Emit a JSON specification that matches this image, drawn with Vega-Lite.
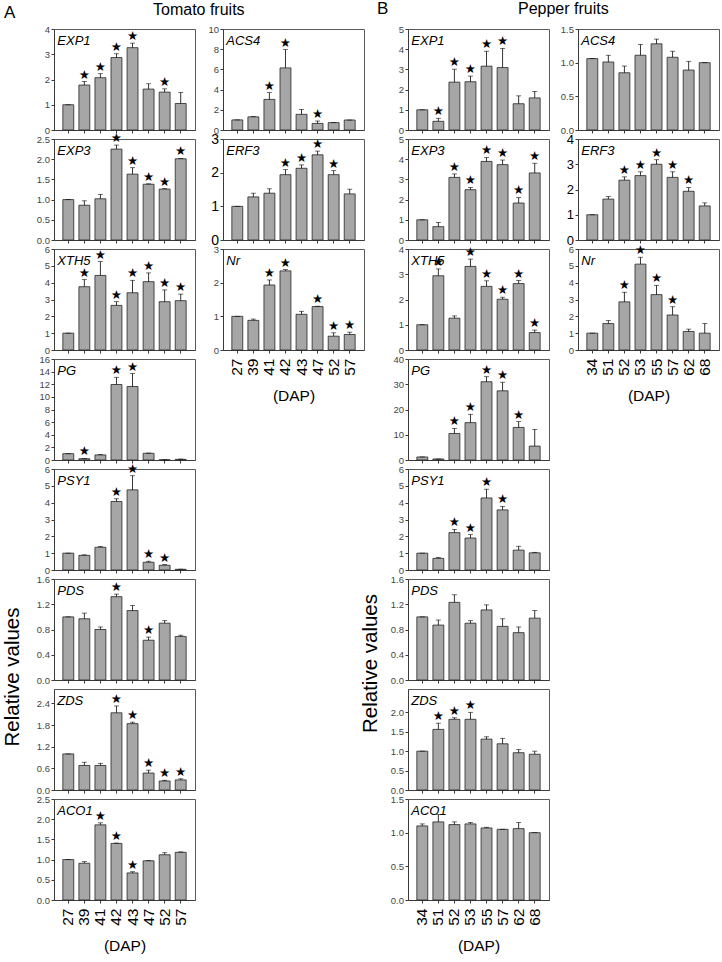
{
"$schema":"https://vega.github.io/schema/vega-lite/v6.json",
"background":"white",
"autosize":{"type":"pad"},
"padding":{"left":1,"top":0,"right":2,"bottom":2},
"bounds":"flush",
"spacing":354,
"config":{
"font":"Liberation Sans",
"view":{"stroke":"#5a5a5a","strokeWidth":1},
"bar":{"color":"#a6a6a6","stroke":"#262626","strokeWidth":0.8},
"rule":{"color":"black","strokeWidth":0.8},
"tick":{"color":"black","thickness":0.8},
"axis":{"grid":false,"domainColor":"#3a3a3a","tickColor":"#3a3a3a","tickSize":3,"labelFont":"Liberation Sans","labelFontSize":9.5,"labelColor":"#444","labelPadding":1.5,"labelOverlap":false,"labelFlush":false,"titleFont":"Liberation Sans","titleFontWeight":"normal","titleColor":"black"},
"axisY":{"labelOverlap":false,"tickCount":20},
"axisX":{"labelAngle":-90,"labelFontSize":15.5,"labelColor":"black","labelPadding":5,"titleFontSize":15.5,"titlePadding":13},
"title":{"font":"Liberation Sans","fontWeight":"normal","color":"black","baseline":"alphabetic","offset":8},
"style":{
"star":{"fontSize":12.5,"baseline":"bottom","dy":0,"font":"DejaVu Sans","fill":"black"},
"gene":{"align":"left","baseline":"top","dx":-11,"dy":6,"fontStyle":"italic","fontSize":13,"font":"Liberation Sans","fill":"black"}
}
},
"datasets":{"d":[
{"c":"T","g":"EXP1","d":27,"v":1,"hi":1,"s":0},
{"c":"T","g":"EXP1","d":39,"v":1.78,"hi":1.92,"s":1},
{"c":"T","g":"EXP1","d":41,"v":2.07,"hi":2.23,"s":1},
{"c":"T","g":"EXP1","d":42,"v":2.87,"hi":3.02,"s":1},
{"c":"T","g":"EXP1","d":43,"v":3.26,"hi":3.44,"s":1},
{"c":"T","g":"EXP1","d":47,"v":1.62,"hi":1.83,"s":0},
{"c":"T","g":"EXP1","d":52,"v":1.5,"hi":1.63,"s":1},
{"c":"T","g":"EXP1","d":57,"v":1.05,"hi":1.49,"s":0},
{"c":"T","g":"EXP3","d":27,"v":1,"hi":1,"s":0},
{"c":"T","g":"EXP3","d":39,"v":0.86,"hi":0.97,"s":0},
{"c":"T","g":"EXP3","d":41,"v":1.02,"hi":1.13,"s":0},
{"c":"T","g":"EXP3","d":42,"v":2.25,"hi":2.35,"s":1},
{"c":"T","g":"EXP3","d":43,"v":1.63,"hi":1.79,"s":1},
{"c":"T","g":"EXP3","d":47,"v":1.38,"hi":1.39,"s":1},
{"c":"T","g":"EXP3","d":52,"v":1.26,"hi":1.27,"s":1},
{"c":"T","g":"EXP3","d":57,"v":2.01,"hi":2.02,"s":1},
{"c":"T","g":"XTH5","d":27,"v":1,"hi":1,"s":0},
{"c":"T","g":"XTH5","d":39,"v":3.76,"hi":4.18,"s":1},
{"c":"T","g":"XTH5","d":41,"v":4.43,"hi":5.25,"s":1},
{"c":"T","g":"XTH5","d":42,"v":2.65,"hi":2.87,"s":1},
{"c":"T","g":"XTH5","d":43,"v":3.4,"hi":4.14,"s":1},
{"c":"T","g":"XTH5","d":47,"v":4.06,"hi":4.58,"s":1},
{"c":"T","g":"XTH5","d":52,"v":2.87,"hi":3.57,"s":1},
{"c":"T","g":"XTH5","d":57,"v":2.93,"hi":3.32,"s":1},
{"c":"T","g":"PG","d":27,"v":1,"hi":1,"s":0},
{"c":"T","g":"PG","d":39,"v":0.2,"hi":0.25,"s":1},
{"c":"T","g":"PG","d":41,"v":0.8,"hi":0.85,"s":0},
{"c":"T","g":"PG","d":42,"v":11.96,"hi":13.1,"s":1},
{"c":"T","g":"PG","d":43,"v":11.64,"hi":13.7,"s":1},
{"c":"T","g":"PG","d":47,"v":1.06,"hi":1.1,"s":0},
{"c":"T","g":"PG","d":52,"v":0.03,"hi":0.03,"s":0},
{"c":"T","g":"PG","d":57,"v":0.1,"hi":0.15,"s":0},
{"c":"T","g":"PSY1","d":27,"v":1,"hi":1,"s":0},
{"c":"T","g":"PSY1","d":39,"v":0.87,"hi":0.9,"s":0},
{"c":"T","g":"PSY1","d":41,"v":1.35,"hi":1.39,"s":0},
{"c":"T","g":"PSY1","d":42,"v":4.07,"hi":4.23,"s":1},
{"c":"T","g":"PSY1","d":43,"v":4.76,"hi":5.6,"s":1},
{"c":"T","g":"PSY1","d":47,"v":0.46,"hi":0.52,"s":1},
{"c":"T","g":"PSY1","d":52,"v":0.28,"hi":0.32,"s":1},
{"c":"T","g":"PSY1","d":57,"v":0.04,"hi":0.05,"s":0},
{"c":"T","g":"PDS","d":27,"v":1,"hi":1,"s":0},
{"c":"T","g":"PDS","d":39,"v":0.97,"hi":1.06,"s":0},
{"c":"T","g":"PDS","d":41,"v":0.8,"hi":0.84,"s":0},
{"c":"T","g":"PDS","d":42,"v":1.32,"hi":1.36,"s":1},
{"c":"T","g":"PDS","d":43,"v":1.1,"hi":1.18,"s":0},
{"c":"T","g":"PDS","d":47,"v":0.63,"hi":0.68,"s":1},
{"c":"T","g":"PDS","d":52,"v":0.9,"hi":0.94,"s":0},
{"c":"T","g":"PDS","d":57,"v":0.69,"hi":0.71,"s":0},
{"c":"T","g":"ZDS","d":27,"v":1,"hi":1,"s":0},
{"c":"T","g":"ZDS","d":39,"v":0.68,"hi":0.77,"s":0},
{"c":"T","g":"ZDS","d":41,"v":0.68,"hi":0.74,"s":0},
{"c":"T","g":"ZDS","d":42,"v":2.14,"hi":2.33,"s":1},
{"c":"T","g":"ZDS","d":43,"v":1.84,"hi":1.88,"s":1},
{"c":"T","g":"ZDS","d":47,"v":0.47,"hi":0.55,"s":1},
{"c":"T","g":"ZDS","d":52,"v":0.25,"hi":0.27,"s":1},
{"c":"T","g":"ZDS","d":57,"v":0.28,"hi":0.31,"s":1},
{"c":"T","g":"ACO1","d":27,"v":1,"hi":1,"s":0},
{"c":"T","g":"ACO1","d":39,"v":0.91,"hi":0.95,"s":0},
{"c":"T","g":"ACO1","d":41,"v":1.86,"hi":1.91,"s":1},
{"c":"T","g":"ACO1","d":42,"v":1.4,"hi":1.41,"s":1},
{"c":"T","g":"ACO1","d":43,"v":0.67,"hi":0.7,"s":1},
{"c":"T","g":"ACO1","d":47,"v":0.97,"hi":0.98,"s":0},
{"c":"T","g":"ACO1","d":52,"v":1.12,"hi":1.17,"s":0},
{"c":"T","g":"ACO1","d":57,"v":1.18,"hi":1.19,"s":0},
{"c":"T","g":"ACS4","d":27,"v":1,"hi":1,"s":0},
{"c":"T","g":"ACS4","d":39,"v":1.3,"hi":1.33,"s":0},
{"c":"T","g":"ACS4","d":41,"v":3.03,"hi":3.7,"s":1},
{"c":"T","g":"ACS4","d":42,"v":6.15,"hi":7.96,"s":1},
{"c":"T","g":"ACS4","d":43,"v":1.55,"hi":2.04,"s":0},
{"c":"T","g":"ACS4","d":47,"v":0.65,"hi":0.89,"s":1},
{"c":"T","g":"ACS4","d":52,"v":0.73,"hi":0.75,"s":0},
{"c":"T","g":"ACS4","d":57,"v":0.99,"hi":0.99,"s":0},
{"c":"T","g":"ERF3","d":27,"v":1,"hi":1,"s":0},
{"c":"T","g":"ERF3","d":39,"v":1.28,"hi":1.39,"s":0},
{"c":"T","g":"ERF3","d":41,"v":1.39,"hi":1.52,"s":0},
{"c":"T","g":"ERF3","d":42,"v":1.94,"hi":2.09,"s":1},
{"c":"T","g":"ERF3","d":43,"v":2.13,"hi":2.23,"s":1},
{"c":"T","g":"ERF3","d":47,"v":2.53,"hi":2.64,"s":1},
{"c":"T","g":"ERF3","d":52,"v":1.94,"hi":2.06,"s":1},
{"c":"T","g":"ERF3","d":57,"v":1.37,"hi":1.51,"s":0},
{"c":"T","g":"Nr","d":27,"v":1,"hi":1,"s":0},
{"c":"T","g":"Nr","d":39,"v":0.88,"hi":0.92,"s":0},
{"c":"T","g":"Nr","d":41,"v":1.93,"hi":2.08,"s":1},
{"c":"T","g":"Nr","d":42,"v":2.35,"hi":2.39,"s":1},
{"c":"T","g":"Nr","d":43,"v":1.06,"hi":1.15,"s":0},
{"c":"T","g":"Nr","d":47,"v":1.29,"hi":1.3,"s":1},
{"c":"T","g":"Nr","d":52,"v":0.41,"hi":0.51,"s":1},
{"c":"T","g":"Nr","d":57,"v":0.46,"hi":0.53,"s":1},
{"c":"P","g":"EXP1","d":34,"v":1,"hi":1,"s":0},
{"c":"P","g":"EXP1","d":51,"v":0.43,"hi":0.58,"s":1},
{"c":"P","g":"EXP1","d":52,"v":2.37,"hi":3.01,"s":1},
{"c":"P","g":"EXP1","d":53,"v":2.39,"hi":2.67,"s":1},
{"c":"P","g":"EXP1","d":55,"v":3.16,"hi":3.9,"s":1},
{"c":"P","g":"EXP1","d":57,"v":3.09,"hi":4.04,"s":1},
{"c":"P","g":"EXP1","d":62,"v":1.3,"hi":1.69,"s":0},
{"c":"P","g":"EXP1","d":68,"v":1.59,"hi":1.91,"s":0},
{"c":"P","g":"EXP3","d":34,"v":1,"hi":1,"s":0},
{"c":"P","g":"EXP3","d":51,"v":0.66,"hi":0.87,"s":0},
{"c":"P","g":"EXP3","d":52,"v":3.1,"hi":3.27,"s":1},
{"c":"P","g":"EXP3","d":53,"v":2.49,"hi":2.6,"s":1},
{"c":"P","g":"EXP3","d":55,"v":3.89,"hi":4.09,"s":1},
{"c":"P","g":"EXP3","d":57,"v":3.73,"hi":3.96,"s":1},
{"c":"P","g":"EXP3","d":62,"v":1.83,"hi":2.11,"s":1},
{"c":"P","g":"EXP3","d":68,"v":3.32,"hi":3.8,"s":1},
{"c":"P","g":"XTH5","d":34,"v":1,"hi":1,"s":0},
{"c":"P","g":"XTH5","d":51,"v":2.94,"hi":3.21,"s":1},
{"c":"P","g":"XTH5","d":52,"v":1.26,"hi":1.35,"s":0},
{"c":"P","g":"XTH5","d":53,"v":3.31,"hi":3.6,"s":1},
{"c":"P","g":"XTH5","d":55,"v":2.52,"hi":2.74,"s":1},
{"c":"P","g":"XTH5","d":57,"v":2.01,"hi":2.09,"s":1},
{"c":"P","g":"XTH5","d":62,"v":2.63,"hi":2.75,"s":1},
{"c":"P","g":"XTH5","d":68,"v":0.69,"hi":0.79,"s":1},
{"c":"P","g":"PG","d":34,"v":1.2,"hi":1.2,"s":0},
{"c":"P","g":"PG","d":51,"v":0.4,"hi":0.4,"s":0},
{"c":"P","g":"PG","d":52,"v":10.5,"hi":12.5,"s":1},
{"c":"P","g":"PG","d":53,"v":14.8,"hi":18.1,"s":1},
{"c":"P","g":"PG","d":55,"v":31,"hi":33,"s":1},
{"c":"P","g":"PG","d":57,"v":27.4,"hi":30.8,"s":1},
{"c":"P","g":"PG","d":62,"v":12.9,"hi":15.2,"s":1},
{"c":"P","g":"PG","d":68,"v":5.5,"hi":12.1,"s":0},
{"c":"P","g":"PSY1","d":34,"v":1,"hi":1,"s":0},
{"c":"P","g":"PSY1","d":51,"v":0.69,"hi":0.74,"s":0},
{"c":"P","g":"PSY1","d":52,"v":2.22,"hi":2.41,"s":1},
{"c":"P","g":"PSY1","d":53,"v":1.9,"hi":2.1,"s":1},
{"c":"P","g":"PSY1","d":55,"v":4.28,"hi":4.8,"s":1},
{"c":"P","g":"PSY1","d":57,"v":3.57,"hi":3.78,"s":1},
{"c":"P","g":"PSY1","d":62,"v":1.18,"hi":1.41,"s":0},
{"c":"P","g":"PSY1","d":68,"v":1.02,"hi":1.05,"s":0},
{"c":"P","g":"PDS","d":34,"v":1,"hi":1,"s":0},
{"c":"P","g":"PDS","d":51,"v":0.87,"hi":0.95,"s":0},
{"c":"P","g":"PDS","d":52,"v":1.23,"hi":1.35,"s":0},
{"c":"P","g":"PDS","d":53,"v":0.9,"hi":0.94,"s":0},
{"c":"P","g":"PDS","d":55,"v":1.11,"hi":1.19,"s":0},
{"c":"P","g":"PDS","d":57,"v":0.85,"hi":0.97,"s":0},
{"c":"P","g":"PDS","d":62,"v":0.75,"hi":0.84,"s":0},
{"c":"P","g":"PDS","d":68,"v":0.98,"hi":1.1,"s":0},
{"c":"P","g":"ZDS","d":34,"v":1,"hi":1,"s":0},
{"c":"P","g":"ZDS","d":51,"v":1.56,"hi":1.72,"s":1},
{"c":"P","g":"ZDS","d":52,"v":1.82,"hi":1.86,"s":1},
{"c":"P","g":"ZDS","d":53,"v":1.82,"hi":2.0,"s":1},
{"c":"P","g":"ZDS","d":55,"v":1.31,"hi":1.37,"s":0},
{"c":"P","g":"ZDS","d":57,"v":1.19,"hi":1.33,"s":0},
{"c":"P","g":"ZDS","d":62,"v":0.96,"hi":1.04,"s":0},
{"c":"P","g":"ZDS","d":68,"v":0.92,"hi":1.0,"s":0},
{"c":"P","g":"ACO1","d":34,"v":1.1,"hi":1.13,"s":0},
{"c":"P","g":"ACO1","d":51,"v":1.16,"hi":1.27,"s":0},
{"c":"P","g":"ACO1","d":52,"v":1.12,"hi":1.16,"s":0},
{"c":"P","g":"ACO1","d":53,"v":1.13,"hi":1.15,"s":0},
{"c":"P","g":"ACO1","d":55,"v":1.07,"hi":1.08,"s":0},
{"c":"P","g":"ACO1","d":57,"v":1.05,"hi":1.05,"s":0},
{"c":"P","g":"ACO1","d":62,"v":1.06,"hi":1.15,"s":0},
{"c":"P","g":"ACO1","d":68,"v":1.0,"hi":1.0,"s":0},
{"c":"P","g":"ACS4","d":34,"v":1.06,"hi":1.06,"s":0},
{"c":"P","g":"ACS4","d":51,"v":1.01,"hi":1.11,"s":0},
{"c":"P","g":"ACS4","d":52,"v":0.85,"hi":0.95,"s":0},
{"c":"P","g":"ACS4","d":53,"v":1.11,"hi":1.27,"s":0},
{"c":"P","g":"ACS4","d":55,"v":1.28,"hi":1.35,"s":0},
{"c":"P","g":"ACS4","d":57,"v":1.08,"hi":1.17,"s":0},
{"c":"P","g":"ACS4","d":62,"v":0.89,"hi":1.02,"s":0},
{"c":"P","g":"ACS4","d":68,"v":1.0,"hi":1.0,"s":0},
{"c":"P","g":"ERF3","d":34,"v":1,"hi":1,"s":0},
{"c":"P","g":"ERF3","d":51,"v":1.62,"hi":1.72,"s":0},
{"c":"P","g":"ERF3","d":52,"v":2.37,"hi":2.5,"s":1},
{"c":"P","g":"ERF3","d":53,"v":2.55,"hi":2.7,"s":1},
{"c":"P","g":"ERF3","d":55,"v":3.0,"hi":3.18,"s":1},
{"c":"P","g":"ERF3","d":57,"v":2.48,"hi":2.7,"s":1},
{"c":"P","g":"ERF3","d":62,"v":1.93,"hi":2.08,"s":1},
{"c":"P","g":"ERF3","d":68,"v":1.35,"hi":1.47,"s":0},
{"c":"P","g":"Nr","d":34,"v":1,"hi":1,"s":0},
{"c":"P","g":"Nr","d":51,"v":1.57,"hi":1.76,"s":0},
{"c":"P","g":"Nr","d":52,"v":2.86,"hi":3.43,"s":1},
{"c":"P","g":"Nr","d":53,"v":5.1,"hi":5.51,"s":1},
{"c":"P","g":"Nr","d":55,"v":3.29,"hi":3.84,"s":1},
{"c":"P","g":"Nr","d":57,"v":2.08,"hi":2.57,"s":1},
{"c":"P","g":"Nr","d":62,"v":1.1,"hi":1.24,"s":0},
{"c":"P","g":"Nr","d":68,"v":1.0,"hi":1.57,"s":0}
]},
"hconcat":[
{"bounds":"flush","spacing":169,"hconcat":[
{"bounds":"flush","spacing":9,"title":{"text":"A","anchor":"start","frame":"group","dx":-50,"fontSize":17,"offset":1.5},"vconcat":[
{"width":141,"height":101,"data":{"name":"d"},"transform":[{"filter":"datum.c=='T'&&datum.g=='EXP1'"}],"encoding":{"x":{"field":"d","type":"ordinal","scale":{"paddingInner":0.32,"paddingOuter":0.55},"axis":{"labels":false,"title":null}}},"layer":[
{"mark":"bar","encoding":{"y":{"field":"v","type":"quantitative","scale":{"domain":[0,4],"nice":false},"axis":{"values":[0,1,2,3,4],"tickCount":20,"format":"d","title":null,"labelOverlap":false}}}},
{"mark":"rule","encoding":{"y":{"field":"v","type":"quantitative"},"y2":{"field":"hi"}}},
{"mark":{"type":"tick","size":5},"encoding":{"y":{"field":"hi","type":"quantitative"}}},
{"transform":[{"filter":"datum.s==1"}],"mark":{"type":"text","text":"★","style":"star"},"encoding":{"y":{"field":"hi","type":"quantitative"}}},
{"transform":[{"filter":"datum.d==27"}],"mark":{"type":"text","style":"gene"},"encoding":{"y":{"datum":4},"text":{"field":"g"}}}]},
{"width":141,"height":101,"data":{"name":"d"},"transform":[{"filter":"datum.c=='T'&&datum.g=='EXP3'"}],"encoding":{"x":{"field":"d","type":"ordinal","scale":{"paddingInner":0.32,"paddingOuter":0.55},"axis":{"labels":false,"title":null}}},"layer":[
{"mark":"bar","encoding":{"y":{"field":"v","type":"quantitative","scale":{"domain":[0,2.5],"nice":false},"axis":{"values":[0,0.5,1,1.5,2,2.5],"tickCount":20,"format":".1f","title":null,"labelOverlap":false}}}},
{"mark":"rule","encoding":{"y":{"field":"v","type":"quantitative"},"y2":{"field":"hi"}}},
{"mark":{"type":"tick","size":5},"encoding":{"y":{"field":"hi","type":"quantitative"}}},
{"transform":[{"filter":"datum.s==1"}],"mark":{"type":"text","text":"★","style":"star"},"encoding":{"y":{"field":"hi","type":"quantitative"}}},
{"transform":[{"filter":"datum.d==27"}],"mark":{"type":"text","style":"gene"},"encoding":{"y":{"datum":2.5},"text":{"field":"g"}}}]},
{"width":141,"height":101,"data":{"name":"d"},"transform":[{"filter":"datum.c=='T'&&datum.g=='XTH5'"}],"encoding":{"x":{"field":"d","type":"ordinal","scale":{"paddingInner":0.32,"paddingOuter":0.55},"axis":{"labels":false,"title":null}}},"layer":[
{"mark":"bar","encoding":{"y":{"field":"v","type":"quantitative","scale":{"domain":[0,6],"nice":false},"axis":{"values":[0,1,2,3,4,5,6],"tickCount":20,"format":"d","title":null,"labelOverlap":false}}}},
{"mark":"rule","encoding":{"y":{"field":"v","type":"quantitative"},"y2":{"field":"hi"}}},
{"mark":{"type":"tick","size":5},"encoding":{"y":{"field":"hi","type":"quantitative"}}},
{"transform":[{"filter":"datum.s==1"}],"mark":{"type":"text","text":"★","style":"star"},"encoding":{"y":{"field":"hi","type":"quantitative"}}},
{"transform":[{"filter":"datum.d==27"}],"mark":{"type":"text","style":"gene"},"encoding":{"y":{"datum":6},"text":{"field":"g"}}}]},
{"width":141,"height":101,"data":{"name":"d"},"transform":[{"filter":"datum.c=='T'&&datum.g=='PG'"}],"encoding":{"x":{"field":"d","type":"ordinal","scale":{"paddingInner":0.32,"paddingOuter":0.55},"axis":{"labels":false,"title":null}}},"layer":[
{"mark":"bar","encoding":{"y":{"field":"v","type":"quantitative","scale":{"domain":[0,16],"nice":false},"axis":{"values":[0,2,4,6,8,10,12,14,16],"tickCount":20,"format":"d","title":null,"labelOverlap":false}}}},
{"mark":"rule","encoding":{"y":{"field":"v","type":"quantitative"},"y2":{"field":"hi"}}},
{"mark":{"type":"tick","size":5},"encoding":{"y":{"field":"hi","type":"quantitative"}}},
{"transform":[{"filter":"datum.s==1"}],"mark":{"type":"text","text":"★","style":"star"},"encoding":{"y":{"field":"hi","type":"quantitative"}}},
{"transform":[{"filter":"datum.d==27"}],"mark":{"type":"text","style":"gene"},"encoding":{"y":{"datum":16},"text":{"field":"g"}}}]},
{"width":141,"height":101,"data":{"name":"d"},"transform":[{"filter":"datum.c=='T'&&datum.g=='PSY1'"}],"encoding":{"x":{"field":"d","type":"ordinal","scale":{"paddingInner":0.32,"paddingOuter":0.55},"axis":{"labels":false,"title":null}}},"layer":[
{"mark":"bar","encoding":{"y":{"field":"v","type":"quantitative","scale":{"domain":[0,6],"nice":false},"axis":{"values":[0,1,2,3,4,5,6],"tickCount":20,"format":"d","title":null,"labelOverlap":false}}}},
{"mark":"rule","encoding":{"y":{"field":"v","type":"quantitative"},"y2":{"field":"hi"}}},
{"mark":{"type":"tick","size":5},"encoding":{"y":{"field":"hi","type":"quantitative"}}},
{"transform":[{"filter":"datum.s==1"}],"mark":{"type":"text","text":"★","style":"star"},"encoding":{"y":{"field":"hi","type":"quantitative"}}},
{"transform":[{"filter":"datum.d==27"}],"mark":{"type":"text","style":"gene"},"encoding":{"y":{"datum":6},"text":{"field":"g"}}}]},
{"width":141,"height":101,"data":{"name":"d"},"transform":[{"filter":"datum.c=='T'&&datum.g=='PDS'"}],"encoding":{"x":{"field":"d","type":"ordinal","scale":{"paddingInner":0.32,"paddingOuter":0.55},"axis":{"labels":false,"title":null}}},"layer":[
{"mark":"bar","encoding":{"y":{"field":"v","type":"quantitative","scale":{"domain":[0,1.6],"nice":false},"axis":{"values":[0,0.4,0.8,1.2,1.6],"tickCount":20,"format":".1f","labelOverlap":false,"title":"Relative values","titleX":-36,"titleY":97.5,"titleAngle":-90,"titleAlign":"center","titleBaseline":"alphabetic","titleFontSize":20.5}}}},
{"mark":"rule","encoding":{"y":{"field":"v","type":"quantitative"},"y2":{"field":"hi"}}},
{"mark":{"type":"tick","size":5},"encoding":{"y":{"field":"hi","type":"quantitative"}}},
{"transform":[{"filter":"datum.s==1"}],"mark":{"type":"text","text":"★","style":"star"},"encoding":{"y":{"field":"hi","type":"quantitative"}}},
{"transform":[{"filter":"datum.d==27"}],"mark":{"type":"text","style":"gene"},"encoding":{"y":{"datum":1.6},"text":{"field":"g"}}}]},
{"width":141,"height":101,"data":{"name":"d"},"transform":[{"filter":"datum.c=='T'&&datum.g=='ZDS'"}],"encoding":{"x":{"field":"d","type":"ordinal","scale":{"paddingInner":0.32,"paddingOuter":0.55},"axis":{"labels":false,"title":null}}},"layer":[
{"mark":"bar","encoding":{"y":{"field":"v","type":"quantitative","scale":{"domain":[0,2.8],"nice":false},"axis":{"values":[0,0.6,1.2,1.8,2.4],"tickCount":20,"format":".1f","title":null,"labelOverlap":false}}}},
{"mark":"rule","encoding":{"y":{"field":"v","type":"quantitative"},"y2":{"field":"hi"}}},
{"mark":{"type":"tick","size":5},"encoding":{"y":{"field":"hi","type":"quantitative"}}},
{"transform":[{"filter":"datum.s==1"}],"mark":{"type":"text","text":"★","style":"star"},"encoding":{"y":{"field":"hi","type":"quantitative"}}},
{"transform":[{"filter":"datum.d==27"}],"mark":{"type":"text","style":"gene"},"encoding":{"y":{"datum":2.8},"text":{"field":"g"}}}]},
{"width":141,"height":101,"data":{"name":"d"},"transform":[{"filter":"datum.c=='T'&&datum.g=='ACO1'"}],"encoding":{"x":{"field":"d","type":"ordinal","scale":{"paddingInner":0.32,"paddingOuter":0.55},"axis":{"title":"(DAP)"}}},"layer":[
{"mark":"bar","encoding":{"y":{"field":"v","type":"quantitative","scale":{"domain":[0,2.5],"nice":false},"axis":{"values":[0,0.5,1,1.5,2,2.5],"tickCount":20,"format":".1f","title":null,"labelOverlap":false}}}},
{"mark":"rule","encoding":{"y":{"field":"v","type":"quantitative"},"y2":{"field":"hi"}}},
{"mark":{"type":"tick","size":5},"encoding":{"y":{"field":"hi","type":"quantitative"}}},
{"transform":[{"filter":"datum.s==1"}],"mark":{"type":"text","text":"★","style":"star"},"encoding":{"y":{"field":"hi","type":"quantitative"}}},
{"transform":[{"filter":"datum.d==27"}],"mark":{"type":"text","style":"gene"},"encoding":{"y":{"datum":2.5},"text":{"field":"g"}}}]}
]},
{"bounds":"flush","spacing":9,"title":{"text":"Tomato fruits","anchor":"start","frame":"group","dx":-70,"fontSize":16,"offset":6},"vconcat":[
{"width":141,"height":101,"data":{"name":"d"},"transform":[{"filter":"datum.c=='T'&&datum.g=='ACS4'"}],"encoding":{"x":{"field":"d","type":"ordinal","scale":{"paddingInner":0.32,"paddingOuter":0.55},"axis":{"labels":false,"title":null}}},"layer":[
{"mark":"bar","encoding":{"y":{"field":"v","type":"quantitative","scale":{"domain":[0,10],"nice":false},"axis":{"values":[0,2,4,6,8,10],"tickCount":20,"format":"d","title":null,"labelOverlap":false}}}},
{"mark":"rule","encoding":{"y":{"field":"v","type":"quantitative"},"y2":{"field":"hi"}}},
{"mark":{"type":"tick","size":5},"encoding":{"y":{"field":"hi","type":"quantitative"}}},
{"transform":[{"filter":"datum.s==1"}],"mark":{"type":"text","text":"★","style":"star"},"encoding":{"y":{"field":"hi","type":"quantitative"}}},
{"transform":[{"filter":"datum.d==27"}],"mark":{"type":"text","style":"gene"},"encoding":{"y":{"datum":10},"text":{"field":"g"}}}]},
{"width":141,"height":101,"data":{"name":"d"},"transform":[{"filter":"datum.c=='T'&&datum.g=='ERF3'"}],"encoding":{"x":{"field":"d","type":"ordinal","scale":{"paddingInner":0.32,"paddingOuter":0.55},"axis":{"labels":false,"title":null}}},"layer":[
{"mark":"bar","encoding":{"y":{"field":"v","type":"quantitative","scale":{"domain":[0,3],"nice":false},"axis":{"values":[0,1,2,3],"tickCount":20,"format":"d","title":null,"labelOverlap":false,"labelFontSize":14,"labelColor":"black"}}}},
{"mark":"rule","encoding":{"y":{"field":"v","type":"quantitative"},"y2":{"field":"hi"}}},
{"mark":{"type":"tick","size":5},"encoding":{"y":{"field":"hi","type":"quantitative"}}},
{"transform":[{"filter":"datum.s==1"}],"mark":{"type":"text","text":"★","style":"star"},"encoding":{"y":{"field":"hi","type":"quantitative"}}},
{"transform":[{"filter":"datum.d==27"}],"mark":{"type":"text","style":"gene"},"encoding":{"y":{"datum":3},"text":{"field":"g"}}}]},
{"width":141,"height":101,"data":{"name":"d"},"transform":[{"filter":"datum.c=='T'&&datum.g=='Nr'"}],"encoding":{"x":{"field":"d","type":"ordinal","scale":{"paddingInner":0.32,"paddingOuter":0.55},"axis":{"title":"(DAP)"}}},"layer":[
{"mark":"bar","encoding":{"y":{"field":"v","type":"quantitative","scale":{"domain":[0,3],"nice":false},"axis":{"values":[0,1,2,3],"tickCount":20,"format":"d","title":null,"labelOverlap":false}}}},
{"mark":"rule","encoding":{"y":{"field":"v","type":"quantitative"},"y2":{"field":"hi"}}},
{"mark":{"type":"tick","size":5},"encoding":{"y":{"field":"hi","type":"quantitative"}}},
{"transform":[{"filter":"datum.s==1"}],"mark":{"type":"text","text":"★","style":"star"},"encoding":{"y":{"field":"hi","type":"quantitative"}}},
{"transform":[{"filter":"datum.d==27"}],"mark":{"type":"text","style":"gene"},"encoding":{"y":{"datum":3},"text":{"field":"g"}}}]}
]}
]},
{"bounds":"flush","spacing":170,"hconcat":[
{"bounds":"flush","spacing":9,"title":{"text":"B","anchor":"start","frame":"group","dx":-31,"fontSize":17,"offset":5.5},"vconcat":[
{"width":141,"height":101,"data":{"name":"d"},"transform":[{"filter":"datum.c=='P'&&datum.g=='EXP1'"}],"encoding":{"x":{"field":"d","type":"ordinal","scale":{"paddingInner":0.32,"paddingOuter":0.55},"axis":{"labels":false,"title":null}}},"layer":[
{"mark":"bar","encoding":{"y":{"field":"v","type":"quantitative","scale":{"domain":[0,5],"nice":false},"axis":{"values":[0,1,2,3,4,5],"tickCount":20,"format":"d","title":null,"labelOverlap":false}}}},
{"mark":"rule","encoding":{"y":{"field":"v","type":"quantitative"},"y2":{"field":"hi"}}},
{"mark":{"type":"tick","size":5},"encoding":{"y":{"field":"hi","type":"quantitative"}}},
{"transform":[{"filter":"datum.s==1"}],"mark":{"type":"text","text":"★","style":"star"},"encoding":{"y":{"field":"hi","type":"quantitative"}}},
{"transform":[{"filter":"datum.d==34"}],"mark":{"type":"text","style":"gene"},"encoding":{"y":{"datum":5},"text":{"field":"g"}}}]},
{"width":141,"height":101,"data":{"name":"d"},"transform":[{"filter":"datum.c=='P'&&datum.g=='EXP3'"}],"encoding":{"x":{"field":"d","type":"ordinal","scale":{"paddingInner":0.32,"paddingOuter":0.55},"axis":{"labels":false,"title":null}}},"layer":[
{"mark":"bar","encoding":{"y":{"field":"v","type":"quantitative","scale":{"domain":[0,5],"nice":false},"axis":{"values":[0,1,2,3,4,5],"tickCount":20,"format":"d","title":null,"labelOverlap":false}}}},
{"mark":"rule","encoding":{"y":{"field":"v","type":"quantitative"},"y2":{"field":"hi"}}},
{"mark":{"type":"tick","size":5},"encoding":{"y":{"field":"hi","type":"quantitative"}}},
{"transform":[{"filter":"datum.s==1"}],"mark":{"type":"text","text":"★","style":"star"},"encoding":{"y":{"field":"hi","type":"quantitative"}}},
{"transform":[{"filter":"datum.d==34"}],"mark":{"type":"text","style":"gene"},"encoding":{"y":{"datum":5},"text":{"field":"g"}}}]},
{"width":141,"height":101,"data":{"name":"d"},"transform":[{"filter":"datum.c=='P'&&datum.g=='XTH5'"}],"encoding":{"x":{"field":"d","type":"ordinal","scale":{"paddingInner":0.32,"paddingOuter":0.55},"axis":{"labels":false,"title":null}}},"layer":[
{"mark":"bar","encoding":{"y":{"field":"v","type":"quantitative","scale":{"domain":[0,4],"nice":false},"axis":{"values":[0,1,2,3,4],"tickCount":20,"format":"d","title":null,"labelOverlap":false}}}},
{"mark":"rule","encoding":{"y":{"field":"v","type":"quantitative"},"y2":{"field":"hi"}}},
{"mark":{"type":"tick","size":5},"encoding":{"y":{"field":"hi","type":"quantitative"}}},
{"transform":[{"filter":"datum.s==1"}],"mark":{"type":"text","text":"★","style":"star"},"encoding":{"y":{"field":"hi","type":"quantitative"}}},
{"transform":[{"filter":"datum.d==34"}],"mark":{"type":"text","style":"gene"},"encoding":{"y":{"datum":4},"text":{"field":"g"}}}]},
{"width":141,"height":101,"data":{"name":"d"},"transform":[{"filter":"datum.c=='P'&&datum.g=='PG'"}],"encoding":{"x":{"field":"d","type":"ordinal","scale":{"paddingInner":0.32,"paddingOuter":0.55},"axis":{"labels":false,"title":null}}},"layer":[
{"mark":"bar","encoding":{"y":{"field":"v","type":"quantitative","scale":{"domain":[0,40],"nice":false},"axis":{"values":[0,10,20,30,40],"tickCount":20,"format":"d","title":null,"labelOverlap":false}}}},
{"mark":"rule","encoding":{"y":{"field":"v","type":"quantitative"},"y2":{"field":"hi"}}},
{"mark":{"type":"tick","size":5},"encoding":{"y":{"field":"hi","type":"quantitative"}}},
{"transform":[{"filter":"datum.s==1"}],"mark":{"type":"text","text":"★","style":"star"},"encoding":{"y":{"field":"hi","type":"quantitative"}}},
{"transform":[{"filter":"datum.d==34"}],"mark":{"type":"text","style":"gene"},"encoding":{"y":{"datum":40},"text":{"field":"g"}}}]},
{"width":141,"height":101,"data":{"name":"d"},"transform":[{"filter":"datum.c=='P'&&datum.g=='PSY1'"}],"encoding":{"x":{"field":"d","type":"ordinal","scale":{"paddingInner":0.32,"paddingOuter":0.55},"axis":{"labels":false,"title":null}}},"layer":[
{"mark":"bar","encoding":{"y":{"field":"v","type":"quantitative","scale":{"domain":[0,6],"nice":false},"axis":{"values":[0,1,2,3,4,5,6],"tickCount":20,"format":"d","title":null,"labelOverlap":false}}}},
{"mark":"rule","encoding":{"y":{"field":"v","type":"quantitative"},"y2":{"field":"hi"}}},
{"mark":{"type":"tick","size":5},"encoding":{"y":{"field":"hi","type":"quantitative"}}},
{"transform":[{"filter":"datum.s==1"}],"mark":{"type":"text","text":"★","style":"star"},"encoding":{"y":{"field":"hi","type":"quantitative"}}},
{"transform":[{"filter":"datum.d==34"}],"mark":{"type":"text","style":"gene"},"encoding":{"y":{"datum":6},"text":{"field":"g"}}}]},
{"width":141,"height":101,"data":{"name":"d"},"transform":[{"filter":"datum.c=='P'&&datum.g=='PDS'"}],"encoding":{"x":{"field":"d","type":"ordinal","scale":{"paddingInner":0.32,"paddingOuter":0.55},"axis":{"labels":false,"title":null}}},"layer":[
{"mark":"bar","encoding":{"y":{"field":"v","type":"quantitative","scale":{"domain":[0,1.6],"nice":false},"axis":{"values":[0,0.4,0.8,1.2,1.6],"tickCount":20,"format":".1f","labelOverlap":false,"title":"Relative values","titleX":-32,"titleY":84,"titleAngle":-90,"titleAlign":"center","titleBaseline":"alphabetic","titleFontSize":20.5}}}},
{"mark":"rule","encoding":{"y":{"field":"v","type":"quantitative"},"y2":{"field":"hi"}}},
{"mark":{"type":"tick","size":5},"encoding":{"y":{"field":"hi","type":"quantitative"}}},
{"transform":[{"filter":"datum.s==1"}],"mark":{"type":"text","text":"★","style":"star"},"encoding":{"y":{"field":"hi","type":"quantitative"}}},
{"transform":[{"filter":"datum.d==34"}],"mark":{"type":"text","style":"gene"},"encoding":{"y":{"datum":1.6},"text":{"field":"g"}}}]},
{"width":141,"height":101,"data":{"name":"d"},"transform":[{"filter":"datum.c=='P'&&datum.g=='ZDS'"}],"encoding":{"x":{"field":"d","type":"ordinal","scale":{"paddingInner":0.32,"paddingOuter":0.55},"axis":{"labels":false,"title":null}}},"layer":[
{"mark":"bar","encoding":{"y":{"field":"v","type":"quantitative","scale":{"domain":[0,2.6],"nice":false},"axis":{"values":[0,0.5,1,1.5,2],"tickCount":20,"format":".1f","title":null,"labelOverlap":false}}}},
{"mark":"rule","encoding":{"y":{"field":"v","type":"quantitative"},"y2":{"field":"hi"}}},
{"mark":{"type":"tick","size":5},"encoding":{"y":{"field":"hi","type":"quantitative"}}},
{"transform":[{"filter":"datum.s==1"}],"mark":{"type":"text","text":"★","style":"star"},"encoding":{"y":{"field":"hi","type":"quantitative"}}},
{"transform":[{"filter":"datum.d==34"}],"mark":{"type":"text","style":"gene"},"encoding":{"y":{"datum":2.6},"text":{"field":"g"}}}]},
{"width":141,"height":101,"data":{"name":"d"},"transform":[{"filter":"datum.c=='P'&&datum.g=='ACO1'"}],"encoding":{"x":{"field":"d","type":"ordinal","scale":{"paddingInner":0.32,"paddingOuter":0.55},"axis":{"title":"(DAP)"}}},"layer":[
{"mark":"bar","encoding":{"y":{"field":"v","type":"quantitative","scale":{"domain":[0,1.5],"nice":false},"axis":{"values":[0,0.5,1,1.5],"tickCount":20,"format":".1f","title":null,"labelOverlap":false}}}},
{"mark":"rule","encoding":{"y":{"field":"v","type":"quantitative"},"y2":{"field":"hi"}}},
{"mark":{"type":"tick","size":5},"encoding":{"y":{"field":"hi","type":"quantitative"}}},
{"transform":[{"filter":"datum.s==1"}],"mark":{"type":"text","text":"★","style":"star"},"encoding":{"y":{"field":"hi","type":"quantitative"}}},
{"transform":[{"filter":"datum.d==34"}],"mark":{"type":"text","style":"gene"},"encoding":{"y":{"datum":1.5},"text":{"field":"g"}}}]}
]},
{"bounds":"flush","spacing":9,"title":{"text":"Pepper fruits","anchor":"start","frame":"group","dx":-60,"fontSize":16,"offset":7},"vconcat":[
{"width":141,"height":101,"data":{"name":"d"},"transform":[{"filter":"datum.c=='P'&&datum.g=='ACS4'"}],"encoding":{"x":{"field":"d","type":"ordinal","scale":{"paddingInner":0.32,"paddingOuter":0.55},"axis":{"labels":false,"title":null}}},"layer":[
{"mark":"bar","encoding":{"y":{"field":"v","type":"quantitative","scale":{"domain":[0,1.5],"nice":false},"axis":{"values":[0,0.5,1,1.5],"tickCount":20,"format":".1f","title":null,"labelOverlap":false}}}},
{"mark":"rule","encoding":{"y":{"field":"v","type":"quantitative"},"y2":{"field":"hi"}}},
{"mark":{"type":"tick","size":5},"encoding":{"y":{"field":"hi","type":"quantitative"}}},
{"transform":[{"filter":"datum.s==1"}],"mark":{"type":"text","text":"★","style":"star"},"encoding":{"y":{"field":"hi","type":"quantitative"}}},
{"transform":[{"filter":"datum.d==34"}],"mark":{"type":"text","style":"gene"},"encoding":{"y":{"datum":1.5},"text":{"field":"g"}}}]},
{"width":141,"height":101,"data":{"name":"d"},"transform":[{"filter":"datum.c=='P'&&datum.g=='ERF3'"}],"encoding":{"x":{"field":"d","type":"ordinal","scale":{"paddingInner":0.32,"paddingOuter":0.55},"axis":{"labels":false,"title":null}}},"layer":[
{"mark":"bar","encoding":{"y":{"field":"v","type":"quantitative","scale":{"domain":[0,4],"nice":false},"axis":{"values":[0,1,2,3,4],"tickCount":20,"format":"d","title":null,"labelOverlap":false,"labelFontSize":13,"labelColor":"black"}}}},
{"mark":"rule","encoding":{"y":{"field":"v","type":"quantitative"},"y2":{"field":"hi"}}},
{"mark":{"type":"tick","size":5},"encoding":{"y":{"field":"hi","type":"quantitative"}}},
{"transform":[{"filter":"datum.s==1"}],"mark":{"type":"text","text":"★","style":"star"},"encoding":{"y":{"field":"hi","type":"quantitative"}}},
{"transform":[{"filter":"datum.d==34"}],"mark":{"type":"text","style":"gene"},"encoding":{"y":{"datum":4},"text":{"field":"g"}}}]},
{"width":141,"height":101,"data":{"name":"d"},"transform":[{"filter":"datum.c=='P'&&datum.g=='Nr'"}],"encoding":{"x":{"field":"d","type":"ordinal","scale":{"paddingInner":0.32,"paddingOuter":0.55},"axis":{"title":"(DAP)"}}},"layer":[
{"mark":"bar","encoding":{"y":{"field":"v","type":"quantitative","scale":{"domain":[0,6],"nice":false},"axis":{"values":[0,1,2,3,4,5,6],"tickCount":20,"format":"d","title":null,"labelOverlap":false}}}},
{"mark":"rule","encoding":{"y":{"field":"v","type":"quantitative"},"y2":{"field":"hi"}}},
{"mark":{"type":"tick","size":5},"encoding":{"y":{"field":"hi","type":"quantitative"}}},
{"transform":[{"filter":"datum.s==1"}],"mark":{"type":"text","text":"★","style":"star"},"encoding":{"y":{"field":"hi","type":"quantitative"}}},
{"transform":[{"filter":"datum.d==34"}],"mark":{"type":"text","style":"gene"},"encoding":{"y":{"datum":6},"text":{"field":"g"}}}]}
]}
]}
]
}
